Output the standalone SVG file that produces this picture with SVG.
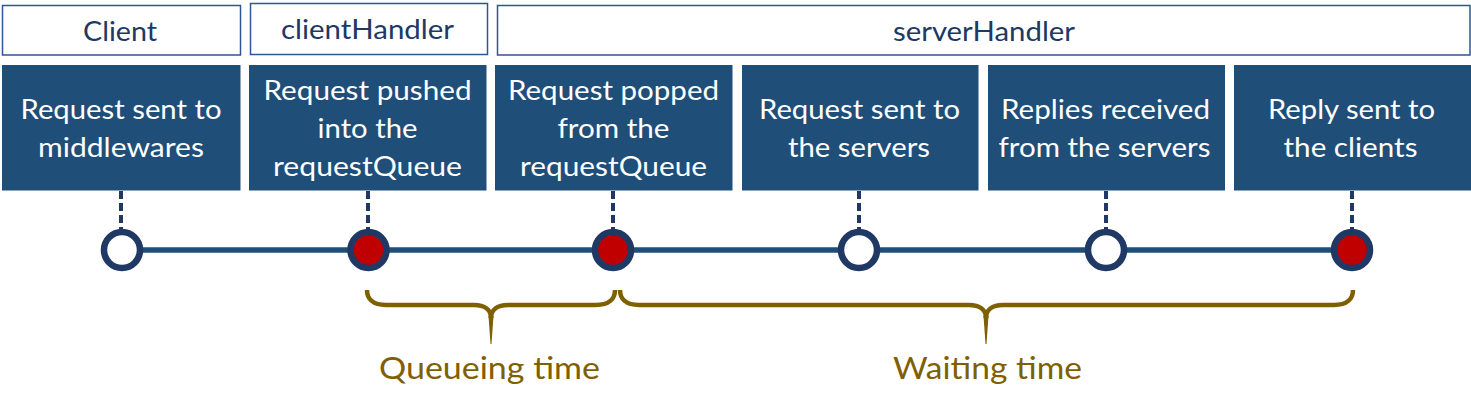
<svg xmlns="http://www.w3.org/2000/svg" width="1471" height="412" viewBox="0 0 1471 412">
<defs>
<style>
.hdr{fill:#ffffff;stroke:#2f5597;stroke-width:1.5}
.hdrt{font-family:Lato,"Open Sans","Liberation Sans",sans-serif;font-size:27px;fill:#203864;text-anchor:middle}
.box{fill:#1f4e79}
.bt{font-family:Lato,"Open Sans","Liberation Sans",sans-serif;font-size:27px;fill:#ffffff;text-anchor:middle}
.dash{stroke:#203864;stroke-width:4;stroke-dasharray:8 4;fill:none}
.tl{stroke:#1f4e79;stroke-width:5.5;fill:none}
.ev{stroke:#203864;stroke-width:6.5}
.open{fill:#ffffff}
.hit{fill:#c00000}
.brace{stroke:#7f6000;stroke-width:4.5;fill:none;stroke-linecap:butt}
.tip{fill:#7f6000}
.lbl{font-family:Lato,"Open Sans","Liberation Sans",sans-serif;font-size:31px;fill:#7f6000;text-anchor:middle}
</style>
</defs>
<g id="hdr-client"><rect class="hdr" x="2.5" y="5.5" width="238" height="49.5"/><text class="hdrt" x="120" y="41" textLength="74" lengthAdjust="spacingAndGlyphs">Client</text></g>
<g id="hdr-clientHandler"><rect class="hdr" x="250.5" y="3.5" width="237" height="51"/><text class="hdrt" x="367.5" y="39" textLength="173" lengthAdjust="spacingAndGlyphs">clientHandler</text></g>
<g id="hdr-serverHandler"><rect class="hdr" x="497.5" y="5.5" width="972.5" height="49.5"/><text class="hdrt" x="984" y="41" textLength="182" lengthAdjust="spacingAndGlyphs">serverHandler</text></g>

<g id="connectors">
<line class="tl" x1="122" y1="250" x2="1352" y2="250"/>
<line class="dash" x1="121" y1="191" x2="121" y2="230"/>
<line class="dash" x1="368" y1="191" x2="368" y2="230"/>
<line class="dash" x1="613" y1="191" x2="613" y2="230"/>
<line class="dash" x1="859" y1="191" x2="859" y2="230"/>
<line class="dash" x1="1106" y1="191" x2="1106" y2="230"/>
<line class="dash" x1="1352" y1="191" x2="1352" y2="230"/>
</g>

<g id="step1"><rect class="box" x="2" y="65" width="238.5" height="125.5"/><text class="bt" x="121" y="118.5" textLength="201" lengthAdjust="spacingAndGlyphs">Request sent to</text><text class="bt" x="121" y="157" textLength="166" lengthAdjust="spacingAndGlyphs">middlewares</text></g>
<g id="step2"><rect class="box" x="249" y="65" width="237.5" height="125.5"/><text class="bt" x="367.5" y="100" textLength="208" lengthAdjust="spacingAndGlyphs">Request pushed</text><text class="bt" x="367.5" y="138" textLength="100" lengthAdjust="spacingAndGlyphs">into the</text><text class="bt" x="367.5" y="176" textLength="189" lengthAdjust="spacingAndGlyphs">requestQueue</text></g>
<g id="step3"><rect class="box" x="495" y="65" width="237.5" height="125.5"/><text class="bt" x="613.5" y="100" textLength="211" lengthAdjust="spacingAndGlyphs">Request popped</text><text class="bt" x="613.5" y="138" textLength="112" lengthAdjust="spacingAndGlyphs">from the</text><text class="bt" x="613.5" y="176" textLength="187" lengthAdjust="spacingAndGlyphs">requestQueue</text></g>
<g id="step4"><rect class="box" x="742" y="65" width="236.5" height="125.5"/><text class="bt" x="859.5" y="118.5" textLength="201" lengthAdjust="spacingAndGlyphs">Request sent to</text><text class="bt" x="859" y="157" textLength="142" lengthAdjust="spacingAndGlyphs">the servers</text></g>
<g id="step5"><rect class="box" x="988" y="65" width="237" height="125.5"/><text class="bt" x="1105.5" y="118.5" textLength="209" lengthAdjust="spacingAndGlyphs">Replies received</text><text class="bt" x="1104.5" y="157" textLength="212" lengthAdjust="spacingAndGlyphs">from the servers</text></g>
<g id="step6"><rect class="box" x="1234" y="65" width="237" height="125.5"/><text class="bt" x="1351.5" y="118.5" textLength="167" lengthAdjust="spacingAndGlyphs">Reply sent to</text><text class="bt" x="1350.5" y="157" textLength="134" lengthAdjust="spacingAndGlyphs">the clients</text></g>

<g id="event1"><circle class="ev open" cx="122" cy="250" r="18"/></g>
<g id="event2"><circle class="ev hit" cx="368.5" cy="250" r="18"/></g>
<g id="event3"><circle class="ev hit" cx="613" cy="250" r="18"/></g>
<g id="event4"><circle class="ev open" cx="859" cy="250" r="18"/></g>
<g id="event5"><circle class="ev open" cx="1106" cy="250" r="18"/></g>
<g id="event6"><circle class="ev hit" cx="1352" cy="250" r="18"/></g>

<g id="queueing-time">
<path class="brace" d="M367,290 C367,299 373,305 386,305 L474,305 C485,305 491,310 491,318"/>
<path class="brace" d="M615,290 C615,299 609,305 596,305 L508,305 C497,305 491,310 491,318"/>
<path class="tip" d="M488.5,316 L493.5,316 L491.5,344 L490.5,344 Z"/>
<text class="lbl" x="489.5" y="379" textLength="221" lengthAdjust="spacingAndGlyphs">Queueing time</text>
</g>
<g id="waiting-time">
<path class="brace" d="M620,290 C620,299 626,305 639,305 L969,305 C980,305 986,310 986,318"/>
<path class="brace" d="M1353,290 C1353,299 1347,305 1334,305 L1003,305 C992,305 986,310 986,318"/>
<path class="tip" d="M983.5,316 L988.5,316 L986.5,344 L985.5,344 Z"/>
<text class="lbl" x="987.5" y="379" textLength="189" lengthAdjust="spacingAndGlyphs">Waiting time</text>
</g>
</svg>
